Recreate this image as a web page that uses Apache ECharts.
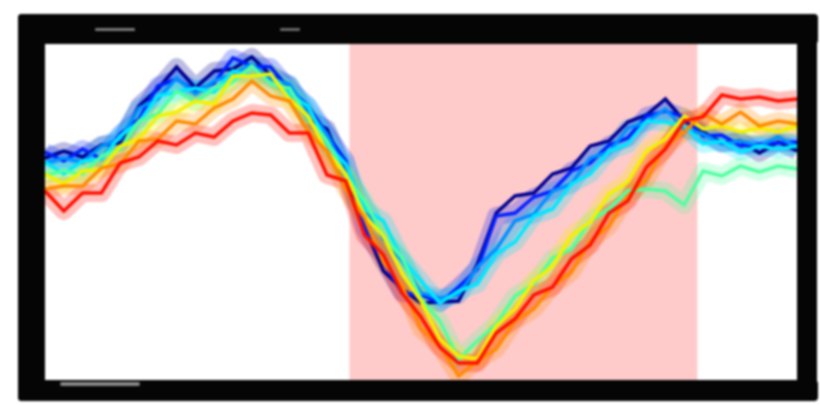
<!DOCTYPE html>
<html><head><meta charset="utf-8">
<script src="https://cdn.jsdelivr.net/npm/echarts@6/dist/echarts.min.js"></script>
<style>html,body{margin:0;padding:0;background:#fff}#c{width:820px;height:405px;filter:blur(1.1px)}</style>
</head><body><div id="c"></div>
<script>
// x positions (sample index), y = height above plot bottom (arbitrary units)
const xs = Array.from({length:41},(_,i)=>i);
const navy   = [223,230,224,236,238,275,292,314,293,310,312,324,306,296,262,252,208,154,110,92,78,79,80,117,168,185,188,207,213,235,240,259,266,282,260,249,238,240,228,239,230];
const blue   = [229,220,232,222,247,262,295,302,290,298,323,315,314,292,275,247,220,152,120,88,86,78,94,112,165,168,184,190,210,218,236,243,265,270,264,245,246,235,237,238,239];
const dodger = [218,223,219,235,242,273,282,303,287,300,307,317,302,297,269,247,207,175,142,120,88,83,86,114,132,160,167,190,197,223,229,253,259,272,252,247,237,240,235,244,234];
const cyan   = [219,207,220,222,245,259,285,289,293,289,310,305,307,287,275,237,217,172,160,122,100,78,90,97,127,139,165,172,197,207,230,237,260,259,255,237,240,229,235,232,235];
const green  = [206,210,207,225,232,260,267,290,279,293,299,315,297,293,262,240,205,180,145,123,82,60,22,40,57,85,97,123,132,160,172,190,192,190,176,210,205,215,209,215,212];
const yellow = [207,197,210,212,235,242,265,269,280,277,305,305,307,282,265,229,207,165,145,107,80,42,25,22,55,72,100,115,145,159,187,199,230,242,265,252,255,249,253,249,255];
const orange = [192,195,195,213,217,240,242,260,257,273,282,300,285,280,249,230,192,163,119,95,52,35,5,20,32,60,72,95,109,140,155,185,202,235,249,267,257,269,255,260,257];
const red    = [190,170,188,188,218,224,240,236,248,244,260,268,266,248,248,206,200,146,126,88,64,34,18,18,48,62,86,94,122,136,168,180,214,232,260,264,286,282,284,280,282];
const shadedRange = [16.2, 34.7];

const groups = [
  [navy,'#00008f'],[blue,'#0020ff'],[dodger,'#0090ff'],[cyan,'#00e8ff'],
  [green,'#50ffa0'],[yellow,'#f4f000'],[orange,'#ff8a00'],[red,'#ff1000']
];
const series = [];
groups.forEach(([d,c])=>{
  series.push({type:'line',data:xs.map((x,i)=>[x,d[i]]),symbol:'none',silent:true,z:1,
    lineStyle:{color:c,width:18,opacity:0.26,join:'round'}});
});
groups.forEach(([d,c])=>{
  series.push({type:'line',data:xs.map((x,i)=>[x,d[i]]),symbol:'none',silent:true,z:2,
    lineStyle:{color:c,width:3.5,join:'miter'}});
});
series[0].markArea = {silent:true,itemStyle:{color:'#ffcaca'},data:[[{xAxis:shadedRange[0]},{xAxis:shadedRange[1]}]]};
series[0].z = 0;

const chart = echarts.init(document.getElementById('c'));
chart.setOption({
  animation:false,
  backgroundColor:'#fff',
  grid:{left:45,right:23,top:43,bottom:24,show:true,backgroundColor:'#fff',borderWidth:0},
  xAxis:{type:'value',min:0,max:40,show:false},
  yAxis:{type:'value',min:0,max:338,show:false},
  graphic:[
    {type:'rect',shape:{x:18,y:14,width:800,height:30,r:4},style:{fill:'#050505'},z:100},
    {type:'rect',shape:{x:18,y:380,width:800,height:21,r:4},style:{fill:'#050505'},z:100},
    {type:'rect',shape:{x:18,y:14,width:27,height:387,r:4},style:{fill:'#050505'},z:100},
    {type:'rect',shape:{x:797,y:14,width:20,height:387,r:4},style:{fill:'#050505'},z:100},
    {type:'rect',shape:{x:60,y:382,width:80,height:4,r:2},style:{fill:'#888'},z:101},
    {type:'rect',shape:{x:95,y:28,width:40,height:3,r:1},style:{fill:'#777'},z:101},
    {type:'rect',shape:{x:280,y:28,width:20,height:3,r:1},style:{fill:'#666'},z:101}
  ],
  series
});
</script></body></html>
